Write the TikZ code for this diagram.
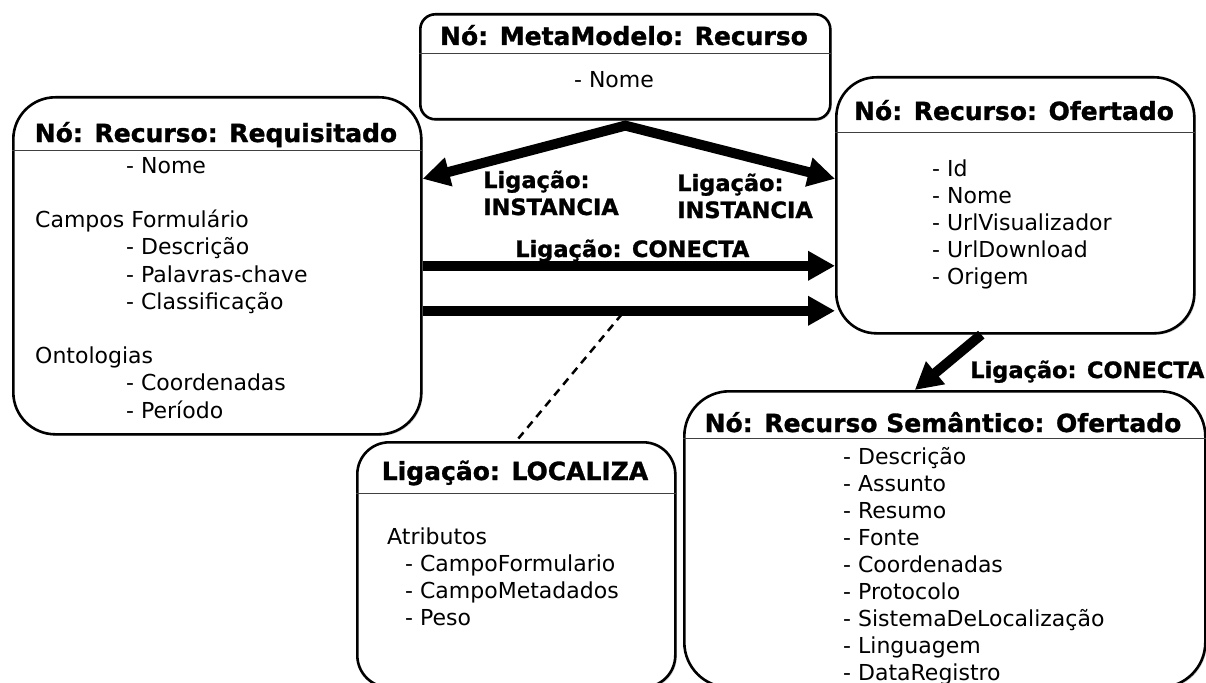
\documentclass[tikz,border=0pt]{standalone}
\usepackage{fontspec}
\setmainfont{DejaVu Sans}[BoldFeatures={FakeBold=1.2}]
\usetikzlibrary{arrows.meta,shadows}
\begin{document}
\begin{tikzpicture}[x=1pt,y=-1pt,
  box/.style={draw, line width=2.6pt, fill=white, rectangle, anchor=north west, inner sep=0pt,
    drop shadow={shadow xshift=1.5pt, shadow yshift=-1.5pt, opacity=0.35}},
  sepline/.style={line width=1pt, draw=black!75},
  ttl/.style={font=\fontsize{25}{30}\selectfont\bfseries, anchor=base, inner sep=0pt},
  txt/.style={font=\fontsize{22}{27.2}\selectfont, anchor=base west, align=left, inner sep=0pt},
  lbl/.style={font=\fontsize{22.5}{27}\selectfont\bfseries, anchor=base west, align=left, inner sep=0pt},
  fat/.style={line width=10pt, -{Triangle[length=27pt,width=28pt]}},
  dashlink/.style={line width=2.5pt, dash pattern=on 8pt off 6pt},
]
\useasboundingbox (0,0) rectangle (1206,682);

% boxes
\node[box, rounded corners=15pt, minimum width=410pt, minimum height=105pt] (meta) at (419,13) {};
\node[box, rounded corners=42pt, minimum width=408pt, minimum height=337pt] (req) at (12,96) {};
\node[box, rounded corners=40pt, minimum width=358pt, minimum height=256pt] (ofer) at (835,76) {};
\node[box, rounded corners=32pt, minimum width=318pt, minimum height=245pt] (loc) at (356,441) {};
\node[box, rounded corners=45pt, minimum width=521pt, minimum height=296pt] (sem) at (683,390) {};

% separators
\draw[sepline] ([yshift=-41pt]meta.north west) -- ([yshift=-41pt]meta.north east);
\draw[sepline] ([yshift=-54pt]req.north west) -- ([yshift=-54pt]req.north east);
\draw[sepline] ([yshift=-56pt]ofer.north west) -- ([yshift=-56pt]ofer.north east);
\draw[sepline] ([yshift=-52pt]loc.north west) -- ([yshift=-52pt]loc.north east);
\draw[sepline] ([yshift=-48pt]sem.north west) -- ([yshift=-48pt]sem.north east);

% titles
\node[ttl] (metaT) at (624,45) {Nó: MetaModelo: Recurso};
\node[ttl] (reqT) at (216,142) {Nó: Recurso: Requisitado};
\node[ttl] (oferT) at (1014,120) {Nó: Recurso: Ofertado};
\node[ttl] (locT) at (515,480) {Ligação: LOCALIZA};
\node[ttl] (semT) at (943,432) {Nó: Recurso Semântico: Ofertado};

% bodies (anchor = baseline of the last line)
\node[txt, anchor=base] (metaB) at (614,88) {- Nome};
\node[txt] (reqB) at (35,418) {\hspace*{91pt}- Nome\\[27.2pt]
Campos Formulário\\
\hspace*{91pt}- Descrição\\
\hspace*{91pt}- Palavras-chave\\
\hspace*{91pt}- Classificação\\[27.2pt]
Ontologias\\
\hspace*{91pt}- Coordenadas\\
\hspace*{91pt}- Período};
\node[txt, font=\fontsize{22}{26.8}\selectfont] (oferB) at (932,284) {- Id\\- Nome\\- UrlVisualizador\\- UrlDownload\\- Origem};
\node[txt, font=\fontsize{22}{26.8}\selectfont] (locB) at (387,625) {Atributos\\
\hspace*{18pt}- CampoFormulario\\
\hspace*{18pt}- CampoMetadados\\
\hspace*{18pt}- Peso};
\node[txt, font=\fontsize{22}{27}\selectfont] (semB) at (843,680) {- Descrição\\- Assunto\\- Resumo\\- Fonte\\- Coordenadas\\- Protocolo\\- SistemaDeLocalização\\- Linguagem\\- DataRegistro};

% connectors
\coordinate (dtop) at (622,314);
\draw[dashlink] (dtop) -- (loc.north);
\draw[line width=10pt, line join=miter,
  {Triangle[length=27pt,width=28pt]}-{Triangle[length=27pt,width=28pt]}]
  ([yshift=87pt]req.east) -- ([yshift=-5pt]meta.south) -- ([yshift=87pt]req.east -| ofer.west);
\draw[fat] (req.east) -- (req.east -| ofer.west);
\draw[fat] ([yshift=-45pt]req.east) -- ([yshift=-45pt]req.east -| ofer.west);
\draw[fat] ([xshift=-34pt]ofer.south) -- ([xshift=-30pt]sem.north);

% labels
\node[lbl] (l1) at (483,215) {Ligação:\\INSTANCIA};
\node[lbl] (l2) at (677,218) {Ligação:\\INSTANCIA};
\node[lbl] (l3) at (515,257) {Ligação: CONECTA};
\node[lbl] (l4) at (970,378) {Ligação: CONECTA};
\end{tikzpicture}
\end{document}
